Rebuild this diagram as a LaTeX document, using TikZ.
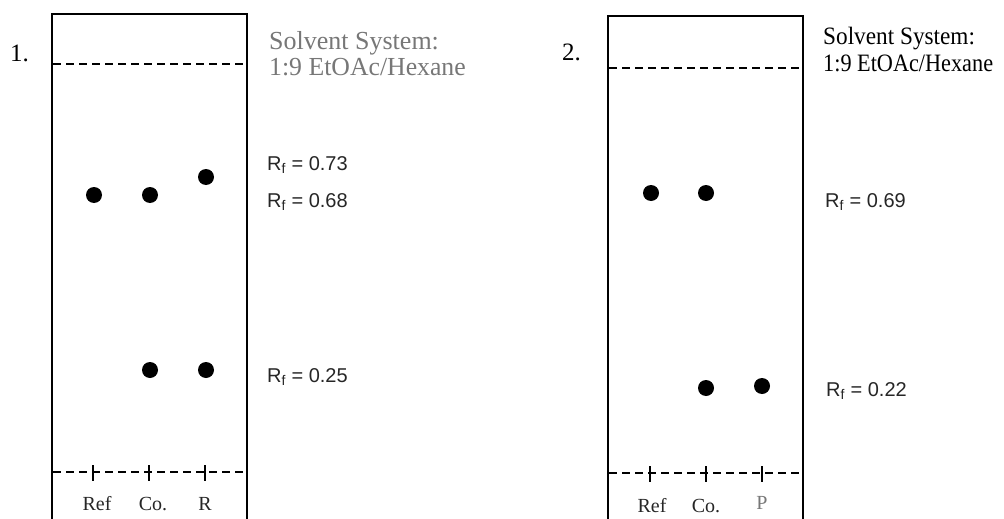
\documentclass[tikz,border=0pt]{standalone}
\usepackage{fontspec}
\setmainfont{Liberation Serif}
\newfontfamily\rfsans{Liberation Sans}
\usepackage{graphicx}
\definecolor{soft}{HTML}{777777}
\begin{document}
\begin{tikzpicture}[x=1pt,y=-1pt,
  plate/.style={line width=2.3pt},
  solvline/.style={line width=2pt,dash pattern=on 8pt off 5pt},
  tick/.style={line width=2pt},
  spot/.style={circle,fill=black,inner sep=0pt,minimum size=16pt},
  rflab/.style={anchor=base west,inner sep=0pt,font=\rfsans\fontsize{20}{20}\selectfont,text=black!85},
  lanelab/.style={anchor=base,inner sep=0pt,font=\fontsize{20}{20}\selectfont,text=black!85},
  solvtxt/.style={anchor=base west,inner sep=0pt,font=\fontsize{26}{26}\selectfont},
  solvtxtb/.style={anchor=base west,inner sep=0pt,font=\fontsize{25}{25}\selectfont},
  numlab/.style={anchor=base west,inner sep=0pt,font=\fontsize{25}{25}\selectfont}]
\useasboundingbox (0,0) rectangle (1004,519);
% ---------- plate 1 ----------
\draw[plate] (52,521) -- (52,14) -- (247,14) -- (247,521);
\draw[solvline] (53,64) -- (246,64);
\draw[solvline] (53,472) -- (246,472);
\foreach \x in {93,149,205} \draw[tick] (\x,465) -- (\x,481);
\node[numlab] (n1) at (10,62) {1.};
\node[solvtxt,text=soft] (s1a) at (269,50) {Solvent System:};
\node[solvtxt,text=soft] (s1b) at (269,76) {\scalebox{0.99}[1]{1:9 EtOAc/Hexane}};
\node[spot] (a1) at (94,195) {};
\node[spot] (a2) at (150,195) {};
\node[spot] (a3) at (206,177) {};
\node[spot] (a4) at (150,370) {};
\node[spot] (a5) at (206,370) {};
\node[rflab] (r1) at (267,170) {R\textsubscript{f} = 0.73};
\node[rflab] (r2) at (267,207) {R\textsubscript{f} = 0.68};
\node[rflab] (r3) at (267,382) {R\textsubscript{f} = 0.25};
\node[lanelab] (l1) at (97,510) {Ref};
\node[lanelab] (l2) at (153,510) {Co.};
\node[lanelab] (l3) at (205,510) {R};
% ---------- plate 2 ----------
\draw[plate] (608,521) -- (608,16) -- (803,16) -- (803,521);
\draw[solvline] (609,68) -- (802,68);
\draw[solvline] (609,473) -- (802,473);
\foreach \x in {650,706,762} \draw[tick] (\x,466) -- (\x,482);
\node[numlab] (n2) at (562,61) {2.};
\node[solvtxtb,text=black] (s2a) at (823,45) {\scalebox{0.93}[1]{Solvent System:}};
\node[solvtxtb,text=black] (s2b) at (823,71) {\scalebox{0.89}[1]{1:9 EtOAc/Hexane}};
\node[spot] (b1) at (651,193) {};
\node[spot] (b2) at (706,193) {};
\node[spot] (b3) at (706,388) {};
\node[spot] (b4) at (762,386) {};
\node[rflab] (q1) at (825,207) {R\textsubscript{f} = 0.69};
\node[rflab] (q2) at (826,396) {R\textsubscript{f} = 0.22};
\node[lanelab] (m1) at (652,512) {Ref};
\node[lanelab] (m2) at (706,512) {Co.};
\node[lanelab,text=soft] (m3) at (762,509) {P};
\end{tikzpicture}
\end{document}
